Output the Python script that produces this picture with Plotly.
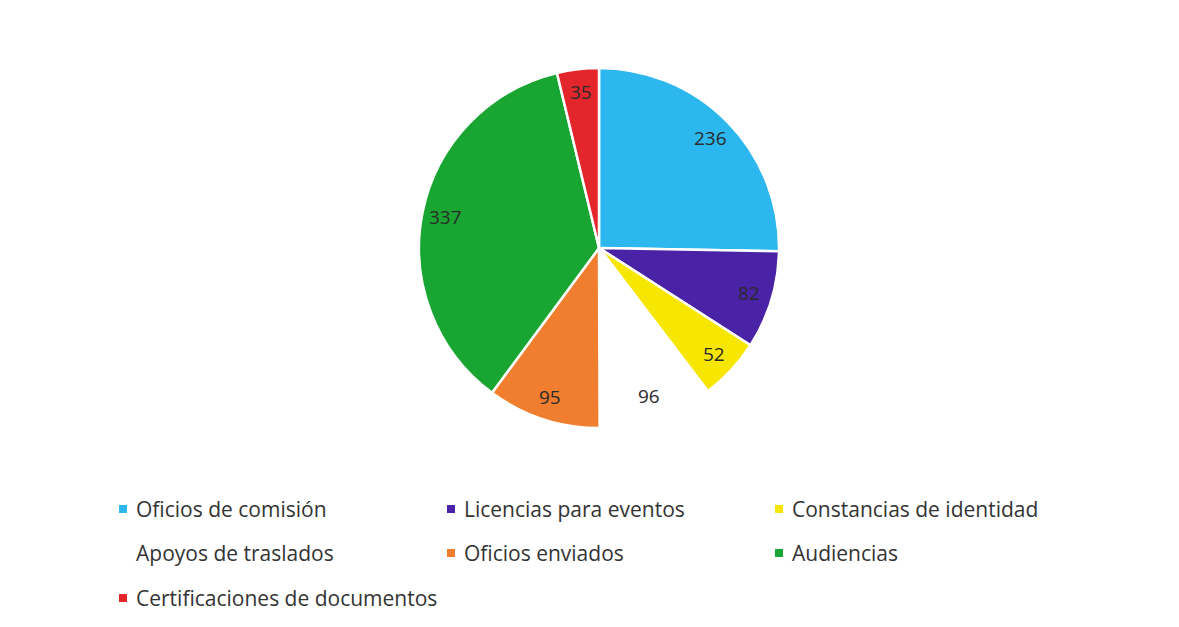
import math
import plotly.graph_objects as go

labels = ["Oficios de comisión", "Licencias para eventos", "Constancias de identidad",
          "Apoyos de traslados", "Oficios enviados", "Audiencias",
          "Certificaciones de documentos"]
values = [236, 82, 52, 96, 95, 337, 35]
colors = ["#2DB7EF", "#4A22A6", "#F7E600", "#FFFFFF", "#F07E2E", "#19A531", "#E3262C"]

W, H = 1179, 627
OFF = 8  # default page body margin of the html output

# pie geometry (page pixels)
CX, CY, R = 599 - OFF, 248 - OFF, 180
LABEL_R = 0.87

# legend grid layout (3 columns)
legend_cols = 3
col_x_text = [134 - OFF, 462 - OFF, 790 - OFF]
row_y = [509 - OFF, 553 - OFF, 598 - OFF]

fig = go.Figure()
fig.add_trace(go.Pie(
    labels=labels, values=values, sort=False, direction="clockwise", rotation=0,
    marker=dict(colors=colors, line=dict(color="white", width=2.5)),
    textinfo="none",
    domain=dict(x=[(CX - R) / W, (CX + R) / W], y=[1 - (CY + R) / H, 1 - (CY - R) / H]),
    showlegend=False, hoverinfo="label+value",
))

shapes = []
annotations = []

# value labels placed near the outer part of each slice (Excel "best fit" style)
total = sum(values)
cum = 0
for v in values:
    mid = (cum + v / 2) / total * 2 * math.pi
    cum += v
    px = CX + LABEL_R * R * math.sin(mid)
    py = CY - LABEL_R * R * math.cos(mid)
    annotations.append(dict(text=str(v), xref="paper", yref="paper",
                            x=px / W, y=1 - py / H, xanchor="center", yanchor="middle",
                            showarrow=False,
                            font=dict(family="Open Sans, sans-serif", size=19, color="#2a2a2a")))

for i, (lab, col) in enumerate(zip(labels, colors)):
    r, c = divmod(i, legend_cols)
    tx = col_x_text[c]
    ty = row_y[r]
    shapes.append(dict(type="rect", xref="paper", yref="paper",
                       x0=(tx - 15) / W, x1=(tx - 7) / W,
                       y0=1 - (ty + 4) / H, y1=1 - (ty - 4) / H,
                       fillcolor=col, line=dict(width=0)))
    annotations.append(dict(text=lab, xref="paper", yref="paper",
                            x=tx / W, y=1 - ty / H, xanchor="left", yanchor="middle",
                            showarrow=False,
                            font=dict(family="Open Sans, sans-serif", size=21, color="#333333")))

fig.update_layout(
    width=W, height=H, margin=dict(l=0, r=0, t=0, b=0),
    paper_bgcolor="white", plot_bgcolor="white",
    shapes=shapes, annotations=annotations,
)
fig.write_html("out.html")
